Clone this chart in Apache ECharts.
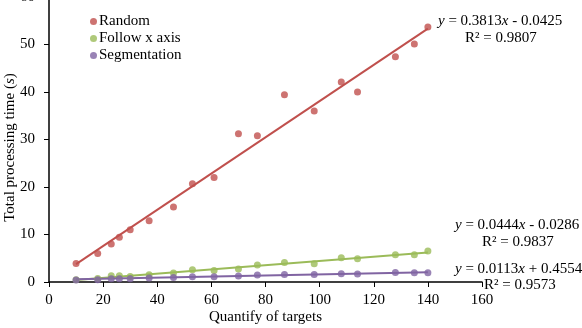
<!DOCTYPE html>
<html>
<head>
<meta charset="utf-8">
<script src="https://cdn.jsdelivr.net/npm/echarts@6/dist/echarts.min.js"></script>
<style>
  html, body { margin: 0; padding: 0; background: #fff; }
  #chart { width: 582px; height: 328px; }
</style>
</head>
<body>
<div id="chart"></div>
<script>
// targets on x axis
const targets = [10, 18, 23, 26, 30, 37, 46, 53, 61, 70, 77, 87, 98, 108, 114, 128, 135, 140]
const randomTime = [3.9, 6.0, 8.0, 9.4, 11.0, 12.9, 15.8, 20.7, 22.0, 31.2, 30.8, 39.4, 36.0, 42.1, 40.0, 47.4, 50.1, 53.7]
const followTime = [0.48, 0.76, 1.32, 1.32, 1.18, 1.53, 1.89, 2.58, 2.44, 2.73, 3.57, 4.12, 3.84, 5.1, 4.89, 5.73, 5.73, 6.51]
const segTime = [0.42, 0.48, 0.69, 0.69, 0.69, 0.84, 0.97, 1.11, 1.11, 1.26, 1.47, 1.6, 1.6, 1.74, 1.7, 2.02, 1.95, 1.95]

// trend line end points
const randomTrend = [[10, 3.77], [140, 53.34]]
const followTrend = [[10, 0.42], [140, 6.19]]
const segTrend = [[10, 0.57], [140, 2.04]]

const seriesNames = ['Random', 'Follow x axis', 'Segmentation']
const colors = ['#C0504D', '#9BBB59', '#8064A2']

const font = 'Liberation Serif'

function pairs(ys) {
  return targets.map((x, i) => [x, ys[i]])
}

function scatter(name, ys, color) {
  return {
    name: name,
    type: 'scatter',
    symbolSize: 7,
    itemStyle: { color: color },
    data: pairs(ys),
    z: 3,
  }
}

function trend(pts, color) {
  return {
    type: 'line',
    data: pts,
    showSymbol: false,
    symbol: 'none',
    lineStyle: { color: color, width: 2 },
    silent: true,
    z: 2,
  }
}

function eqText(x, y, text) {
  return {
    type: 'text',
    left: x,
    top: y,
    style: {
      text: text,
      font: '15px "' + font + '"',
      fill: '#000',
      rich: {
        i: { fontStyle: 'italic', fontFamily: font, fontSize: 15 },
      },
    },
  }
}

let myChart = echarts.init(document.getElementById('chart'))
let option = {
  animation: false,
  textStyle: { fontFamily: font, color: '#000' },
  grid: {
    left: 49,
    right: 100,
    top: -3,
    bottom: 46,
    containLabel: false,
    outerBoundsMode: 'none',
  },
  legend: {
    data: seriesNames,
    orient: 'vertical',
    left: 85,
    top: 9,
    icon: 'circle',
    itemWidth: 7,
    itemHeight: 7,
    itemGap: 2,
    textStyle: { fontFamily: font, fontSize: 15, color: '#000', padding: [0, 0, 0, -3] },
  },
  xAxis: {
    type: 'value',
    min: 0,
    max: 160,
    interval: 20,
    name: 'Quantify of targets',
    nameLocation: 'middle',
    nameGap: 28,
    nameMoveOverlap: false,
    nameTextStyle: { fontFamily: font, fontSize: 15, color: '#000' },
    splitLine: { show: false },
    axisLine: { onZero: false, lineStyle: { color: '#000', width: 1.5 } },
    axisTick: { show: true, length: 5, lineStyle: { color: '#000' } },
    axisLabel: { fontFamily: font, fontSize: 15, color: '#000', margin: 11 },
  },
  yAxis: {
    type: 'value',
    min: 0,
    max: 60,
    interval: 10,
    name: 'Total processing time ({i|s})',
    nameLocation: 'middle',
    nameGap: 31,
    nameMoveOverlap: false,
    nameTextStyle: {
      fontFamily: font,
      fontSize: 15,
      color: '#000',
      padding: [0, 16, 0, 0],
      rich: { i: { fontStyle: 'italic', fontFamily: font, fontSize: 15 } },
    },
    splitLine: { show: false },
    axisLine: { show: true, lineStyle: { color: '#000', width: 1.5 } },
    axisTick: { show: true, length: 5, lineStyle: { color: '#000' } },
    axisLabel: { fontFamily: font, fontSize: 15, color: '#000', margin: 14 },
  },
  graphic: [
    eqText(438, 14, '{i|y} = 0.3813{i|x} - 0.0425'),
    eqText(465, 31, 'R² = 0.9807'),
    eqText(455, 218, '{i|y} = 0.0444{i|x} - 0.0286'),
    eqText(482, 235, 'R² = 0.9837'),
    eqText(455, 262, '{i|y} = 0.0113{i|x} + 0.4554'),
    eqText(484, 278, 'R² = 0.9573'),
  ],
  series: [
    trend(randomTrend, colors[0]),
    trend(followTrend, colors[1]),
    trend(segTrend, colors[2]),
    scatter(seriesNames[0], randomTime, colors[0]),
    scatter(seriesNames[1], followTime, colors[1]),
    scatter(seriesNames[2], segTime, colors[2]),
  ],
}
option && myChart.setOption(option)
</script>
</body>
</html>
